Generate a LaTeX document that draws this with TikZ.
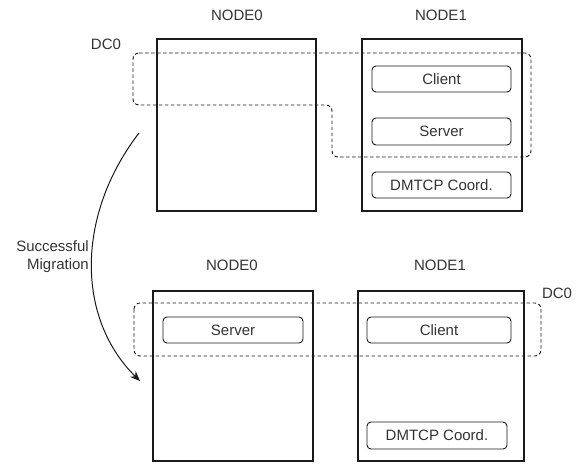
\documentclass[tikz,border=0pt]{standalone}
\usepackage{fontspec}
\setmainfont{Liberation Sans}
\usetikzlibrary{arrows.meta}
\definecolor{txt}{HTML}{333333}
\definecolor{ln}{HTML}{1A1A1A}
\tikzset{
  every node/.style={font=\fontsize{15}{18}\selectfont, text=txt, inner sep=0pt},
  hostbox/.style={draw=ln, line width=1.1pt},
  procbox/.style={draw=ln, line width=0.9pt, rounded corners=4pt},
  dcline/.style={draw=ln, line width=0.9pt, dash pattern=on 3.5pt off 2.5pt, rounded corners=6pt},
  lbl/.style={anchor=center},
}
\begin{document}
\begin{tikzpicture}[x=1pt,y=-1pt]
\useasboundingbox (0,0) rectangle (578,464);
% ---------- top ----------
\node[lbl] (n0t) at (237,15) {NODE0};
\node[lbl] (n1t) at (441,15) {NODE1};
\node[lbl] (dc0t) at (106,44) {DC0};
\draw[hostbox] (157,39) rectangle (316,211);
\draw[hostbox] (362,39) rectangle (522,211);
\node[procbox, minimum width=139pt, minimum height=26pt] (clientt) at (441.5,79) {Client};
\node[procbox, minimum width=139pt, minimum height=27pt] (servert) at (441.5,131.5) {Server};
\node[procbox, minimum width=139pt, minimum height=26pt] (coordt) at (441.5,185) {DMTCP Coord.};
\draw[dcline] (133,53) -- (531,53) -- (531,157) -- (332,157) -- (332,105) -- (133,105) -- cycle;
% ---------- bottom ----------
\node[lbl] (n0b) at (232,265) {NODE0};
\node[lbl] (n1b) at (440,265) {NODE1};
\node[lbl] (dc0b) at (557,293) {DC0};
\draw[hostbox] (153,291) rectangle (313,461);
\draw[hostbox] (358,291) rectangle (524,461);
\node[procbox, minimum width=140pt, minimum height=26pt] (serverb) at (233,330) {Server};
\node[procbox, minimum width=144pt, minimum height=26pt] (clientb) at (439,330) {Client};
\node[procbox, minimum width=140pt, minimum height=27pt] (coordb) at (437,435.5) {DMTCP Coord.};
\draw[dcline] (134,303) rectangle (541,356);
% ---------- migration arrow ----------
\coordinate (ms) at (139,133);
\coordinate (me) at (140,381);
\draw[draw=ln, line width=1pt, -{Stealth[length=10pt,width=8pt]}] (ms) .. controls (76,215) and (76,318) .. (me);
\node[align=right, anchor=east] (mig) at (89,257) {Successful\\Migration};
\end{tikzpicture}
\end{document}
